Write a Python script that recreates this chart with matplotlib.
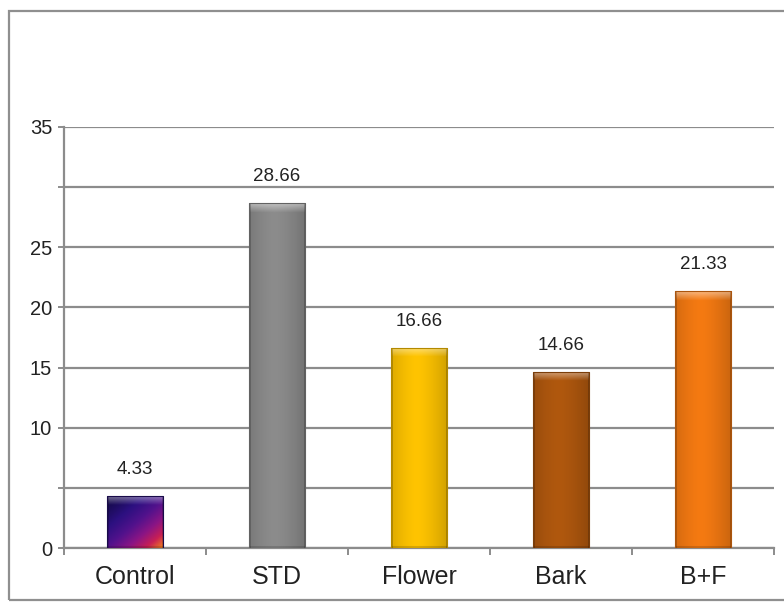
import numpy as np
import matplotlib.pyplot as plt
from matplotlib.colors import LinearSegmentedColormap, to_rgb
from matplotlib.patches import Rectangle

categories = ['Control', 'STD', 'Flower', 'Bark', 'B+F']
values = [4.33, 28.66, 16.66, 14.66, 21.33]
value_labels = ['4.33', '28.66', '16.66', '14.66', '21.33']
bar_colors = ['#24106a', '#8c8c8c', '#ffc400', '#b0580e', '#f57a12']
ytick_values = [0, 5, 10, 15, 20, 25, 30, 35]
ytick_labels = ['0', '', '10', '15', '20', '25', '', '35']

plt.rcParams['font.family'] = ['Liberation Sans', 'DejaVu Sans']

fig = plt.figure(figsize=(7.84, 6.06), dpi=100)
# outer frame of the chart area
fig.patches.append(Rectangle((9 / 784, 6 / 606), 1.0, 589 / 606, transform=fig.transFigure,
                             fill=False, edgecolor='#8f8f8f', lw=1.6))
ax = fig.add_axes([64 / 784, 58 / 606, 710 / 784, 421 / 606])

x = np.arange(len(categories))
bars = ax.bar(x, values, width=0.4, color=bar_colors, zorder=2)

control_cmap = LinearSegmentedColormap.from_list(
    'ctrl', ['#140a48', '#2c1080', '#52128c', '#8a1585', '#c81f55', '#f5841e'])


def shade_bar(rect, base, special=False):
    x0, y0 = rect.get_x(), rect.get_y()
    w, h = rect.get_width(), rect.get_height()
    rows = max(int(h * 12), 10)
    cols = 57
    xs = np.linspace(0, 1, cols)
    ys = np.linspace(0, 1, rows)[:, None]  # 0 = top
    if special:
        t = np.clip((xs[None, :] * 0.9 + ys * 1.0) / 1.9, 0, 1) ** 1.4
        img = control_cmap(t)[..., :3]
    else:
        prof = 1.0 - 0.22 * np.abs(xs - 0.45) ** 1.5 * 2
        prof = np.clip(prof, 0, 1)
        c = np.array(to_rgb(base))
        img = np.ones((rows, cols, 3)) * c[None, None, :] * prof[None, :, None]
    # highlight cap on top
    cap = int(min(9, rows * 0.3))
    for i in range(cap):
        k = 0.45 * (1 - i / cap)
        img[i] = img[i] + (1 - img[i]) * k
    img[:, :2] *= 0.8
    img[:, -2:] *= 0.8
    img[-2:] *= 0.85
    im = ax.imshow(np.clip(img, 0, 1), extent=(x0, x0 + w, y0, y0 + h), aspect='auto',
                   origin='upper', zorder=3, interpolation='bilinear')
    im.set_clip_path(rect)
    edge = np.array(to_rgb(base)) * 0.7
    ax.add_patch(Rectangle((x0, y0), w, h, fill=False, edgecolor=edge, lw=0.8, zorder=4))


for i, b in enumerate(bars):
    shade_bar(b, bar_colors[i], special=(i == 0))
    ax.annotate(value_labels[i], (b.get_x() + b.get_width() / 2, values[i]),
                xytext=(0, 13), textcoords='offset points', ha='center', va='bottom',
                fontsize=13.5, color='#222222')

ax.set_xlim(-0.5, len(categories) - 0.5)
ax.set_ylim(0, 35)
ax.set_yticks(ytick_values)
ax.set_yticklabels(ytick_labels)
ax.yaxis.grid(True, color='#8c8c8c', lw=1.6)
ax.set_axisbelow(True)

ax.set_xticks(x)
ax.set_xticklabels(categories)
ax.set_xticks(np.arange(len(categories) + 1) - 0.5, minor=True)
ax.tick_params(axis='x', which='major', length=0, pad=12, labelsize=18, labelcolor='#222222')
ax.tick_params(axis='x', which='minor', length=5, width=1.4, color='#8c8c8c')
ax.tick_params(axis='y', length=4.5, width=1.4, color='#8c8c8c', pad=4,
               labelsize=14.5, labelcolor='#222222')

for s in ['top', 'right']:
    ax.spines[s].set_visible(False)
for s in ['left', 'bottom']:
    ax.spines[s].set_color('#8c8c8c')
    ax.spines[s].set_linewidth(1.6)

fig.savefig('out.png', dpi=100)
